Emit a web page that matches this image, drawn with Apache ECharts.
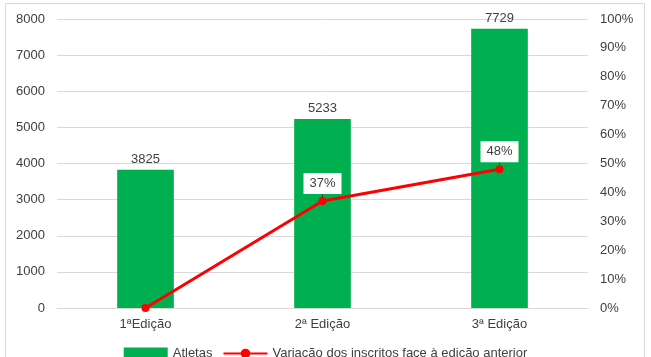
<!DOCTYPE html>
<html>
<head>
<meta charset="utf-8">
<script src="https://cdn.jsdelivr.net/npm/echarts@6/dist/echarts.min.js"></script>
<style>
  html, body { margin: 0; padding: 0; background: #fff; }
  #chart { width: 651px; height: 357px; }
</style>
</head>
<body>
<div id="chart"></div>
<script>
// dados
const edicoes = ['1ªEdição', '2ª Edição', '3ª Edição']
const atletas = [3825, 5233, 7729]
const variacao = [0, 37, 48]   // %

const font = 'Liberation Sans, Arial, sans-serif'
const chart = echarts.init(document.getElementById('chart'))

chart.setOption({
  animation: false,
  textStyle: { fontFamily: font },
  graphic: [{
    type: 'rect', silent: true, z: -1,
    shape: { x: 5.5, y: 3.5, width: 639, height: 360 },
    style: { fill: 'none', stroke: '#d9d9d9', lineWidth: 1 }
  }],
  grid: { left: 57, right: 63, top: 19, bottom: 49 },
  legend: {
    bottom: -8, left: 'center',
    itemWidth: 44, itemHeight: 12, itemGap: 10,
    textStyle: { fontSize: 13, color: '#404040', fontFamily: font },
    data: [
      { name: 'Atletas', icon: 'rect' },
      { name: 'Variação dos inscritos face à edição anterior' }
    ]
  },
  xAxis: {
    type: 'category', data: edicoes,
    axisLine: { lineStyle: { color: '#d9d9d9' } },
    axisTick: { show: false },
    axisLabel: { fontSize: 13, color: '#404040', margin: 10 }
  },
  yAxis: [{
    type: 'value', min: 0, max: 8000, interval: 1000,
    axisLine: { show: false }, axisTick: { show: false },
    axisLabel: { fontSize: 13, color: '#404040', margin: 12, formatter: v => String(v) },
    splitLine: { lineStyle: { color: '#d9d9d9' } }
  }, {
    type: 'value', min: 0, max: 100, interval: 10,
    axisLine: { show: false }, axisTick: { show: false },
    axisLabel: { fontSize: 13, color: '#404040', margin: 12, formatter: '{value}%' },
    splitLine: { show: false }
  }],
  series: [{
    name: 'Atletas', type: 'bar', data: atletas,
    barWidth: '32%',
    itemStyle: { color: '#00b050' },
    label: { show: true, position: 'top', fontSize: 13, color: '#404040', distance: 4 }
  }, {
    name: 'Variação dos inscritos face à edição anterior',
    type: 'line', yAxisIndex: 1,
    data: variacao.map(v => v === 0 ? { value: v, label: { show: false } } : v),
    symbol: 'circle', symbolSize: 8,
    lineStyle: { color: '#ff0000', width: 3 },
    itemStyle: { color: '#ff0000' },
    label: {
      show: true, position: 'top', distance: 2,
      fontSize: 13, color: '#404040', backgroundColor: '#fff',
      padding: [4, 6],
      formatter: p => p.value + '%'
    },
    labelLayout: { dy: -1 },
    labelLine: { show: true, lineStyle: { color: '#404040', width: 1 } }
  }]
})
</script>
</body>
</html>
